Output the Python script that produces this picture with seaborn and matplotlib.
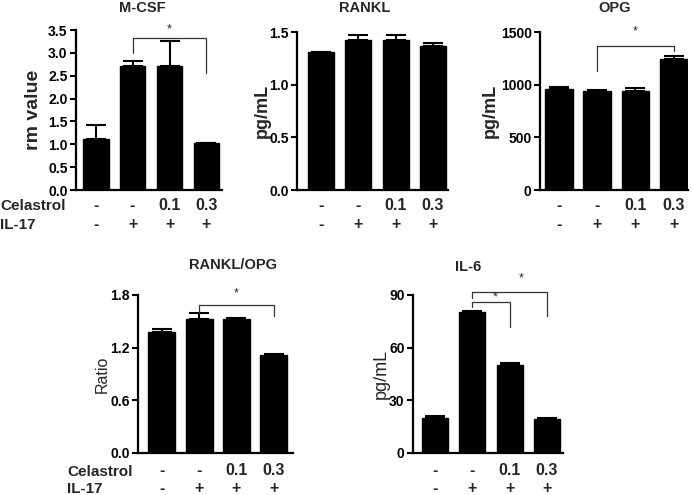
import numpy as np
import pandas as pd
import matplotlib
matplotlib.use("Agg")
import matplotlib.pyplot as plt
import matplotlib.transforms as mtransforms
import seaborn as sns

sns.set_theme(style="ticks")
plt.rcParams["font.family"] = ["Liberation Sans", "DejaVu Sans"]

# ---------------- data ----------------
groups = ["Control", "IL-17", "IL-17+Cel 0.1", "IL-17+Cel 0.3"]
celastrol = ["-", "-", "0.1", "0.3"]
il17 = ["-", "+", "+", "+"]

mcsf_mean = [1.11, 2.71, 2.71, 1.02]
mcsf_sem = [0.31, 0.11, 0.55, 0.0]
rankl_mean = [1.31, 1.42, 1.42, 1.364]
rankl_sem = [0.0, 0.055, 0.055, 0.035]
opg_mean = [955, 943, 943, 1242]
opg_sem = [20, 6, 25, 32]
ratio_mean = [1.381, 1.522, 1.522, 1.119]
ratio_sem = [0.034, 0.076, 0.015, 0.007]
il6_mean = [20.2, 80.3, 50.2, 19.6]
il6_sem = [1.1, 0.7, 1.0, 0.6]

# ---------------- layout ----------------
W, H = 693, 495
fig = plt.figure(figsize=(W / 100, H / 100), dpi=100)


def px_axes(x0, x1, ytop, ybot):
    return fig.add_axes([x0 / W, 1 - ybot / H, (x1 - x0) / W, (ybot - ytop) / H])


panels = [
    dict(box=(76, 222, 30, 190), xlim=(-0.53, 3.42), mean=mcsf_mean, sem=mcsf_sem,
         ylim=3.5, yt=np.arange(0, 3.51, 0.5), fmt="{:.1f}", title="M-CSF",
         title_xy=(142, 8.5), ylabel="rm value", ylabel_x=34, yl_size=14, yl_w="bold",
         rowlabels=True, row_y=(205.5, 225), width=0.7,
         brackets=[(1, 3, 2.99, 3.32, 2.55)], stars=[(2.0, 3.52)]),
    dict(box=(297, 448, 32, 190), xlim=(-0.64, 3.40), mean=rankl_mean, sem=rankl_sem,
         ylim=1.5, yt=np.arange(0, 1.51, 0.5), fmt="{:.1f}", title="RANKL",
         title_xy=(365, 8.5), ylabel="pg/mL", ylabel_x=262, yl_size=13, yl_w="bold",
         rowlabels=False, row_y=(205.5, 225), width=0.7, brackets=[], stars=[]),
    dict(box=(540, 688, 32, 190), xlim=(-0.5, 3.38), mean=opg_mean, sem=opg_sem,
         ylim=1500, yt=np.arange(0, 1501, 500), fmt="{:.0f}", title="OPG",
         title_xy=(615, 8.5), ylabel="pg/mL", ylabel_x=490, yl_size=13, yl_w="bold",
         rowlabels=False, row_y=(205.5, 225), width=0.72,
         brackets=[(1, 3, 1134, 1363, 1315)], stars=[(2.0, 1506)]),
    dict(box=(138, 293, 295, 453), xlim=(-0.63, 3.51), mean=ratio_mean, sem=ratio_sem,
         ylim=1.8, yt=np.arange(0, 1.81, 0.6), fmt="{:.1f}", title="RANKL/OPG",
         title_xy=(233, 265), ylabel="Ratio", ylabel_x=102, yl_size=11.5, yl_w="normal",
         rowlabels=True, row_y=(470.5, 489), width=0.72,
         brackets=[(1, 3, 1.60, 1.686, 1.56)], stars=[(2.0, 1.82)]),
    dict(box=(413, 563, 295, 453), xlim=(-0.59, 3.43), mean=il6_mean, sem=il6_sem,
         ylim=90, yt=np.arange(0, 91, 30), fmt="{:.0f}", title="IL-6",
         title_xy=(468, 267), ylabel="pg/mL", ylabel_x=381, yl_size=13, yl_w="normal",
         rowlabels=False, row_y=(470.5, 489), width=0.7,
         brackets=[(1, 2, 83.0, 85.8, 71.9), (1, 3, 88.5, 91.9, 78.2)],
         stars=[(1.6, 88.5), (2.3, 99.5)]),
]

for p in panels:
    x0, x1, yt_, yb_ = p["box"]
    ax = px_axes(x0, x1, yt_, yb_)
    df = pd.DataFrame({"group": groups, "value": p["mean"]})
    sns.barplot(data=df, x="group", y="value", order=groups, color="black",
                edgecolor="black", width=p["width"], errorbar=None, ax=ax,
                saturation=1)
    sem = np.array(p["sem"])
    ax.errorbar(np.arange(4), p["mean"], yerr=[np.zeros(4), sem], fmt="none",
                ecolor="black", elinewidth=1.5, capsize=7, capthick=1.5, zorder=1)
    ax.set_xlim(*p["xlim"])
    ax.set_ylim(0, p["ylim"])
    ax.set_yticks(p["yt"])
    ax.set_yticklabels([p["fmt"].format(v) for v in p["yt"]], fontsize=10,
                       fontweight="bold")
    ax.set_xticks([])
    ax.set_xlabel("")
    ax.set_ylabel(p["ylabel"], fontsize=p["yl_size"], fontweight=p["yl_w"])
    ax.yaxis.label.set_va("center")
    ax.yaxis.set_label_coords((p["ylabel_x"] - x0) / (x1 - x0), 0.5)
    for s in ["top", "right"]:
        ax.spines[s].set_visible(False)
    for s in ["left", "bottom"]:
        ax.spines[s].set_linewidth(1.6)
        ax.spines[s].set_color("black")
    ax.tick_params(axis="y", direction="out", length=4, width=1.5, pad=2,
                   colors="black")
    ax.set_facecolor("none")

    # title
    tx, ty = p["title_xy"]
    fig.text(tx / W, 1 - ty / H, p["title"], ha="center", va="center",
             fontsize=10.5, fontweight="bold")

    # category rows
    trans = mtransforms.blended_transform_factory(ax.transData, fig.transFigure)
    ry1, ry2 = p["row_y"]
    for i in range(4):
        ax.text(i, 1 - ry1 / H, celastrol[i], transform=trans, ha="center",
                va="center", fontsize=11.5, fontweight="bold", clip_on=False)
        ax.text(i, 1 - ry2 / H, il17[i], transform=trans, ha="center",
                va="center", fontsize=11.5, fontweight="bold", clip_on=False)
    if p["rowlabels"]:
        lx = 0 if x0 < 100 else 67
        fig.text(lx / W, 1 - (ry1 + 1) / H, "Celastrol", ha="left", va="center",
                 fontsize=11, fontweight="bold")
        fig.text(lx / W, 1 - ry2 / H, "IL-17", ha="left", va="center",
                 fontsize=11, fontweight="bold")

    # significance brackets
    for (a, b, ya, top, yb) in p["brackets"]:
        ax.plot([a, a, b, b], [ya, top, top, yb], color="#333333", lw=0.9,
                clip_on=False)
    for (sx, sy) in p["stars"]:
        ax.text(sx, sy, "*", ha="center", va="center", fontsize=9,
                clip_on=False)

fig.savefig("out.png", dpi=100)
